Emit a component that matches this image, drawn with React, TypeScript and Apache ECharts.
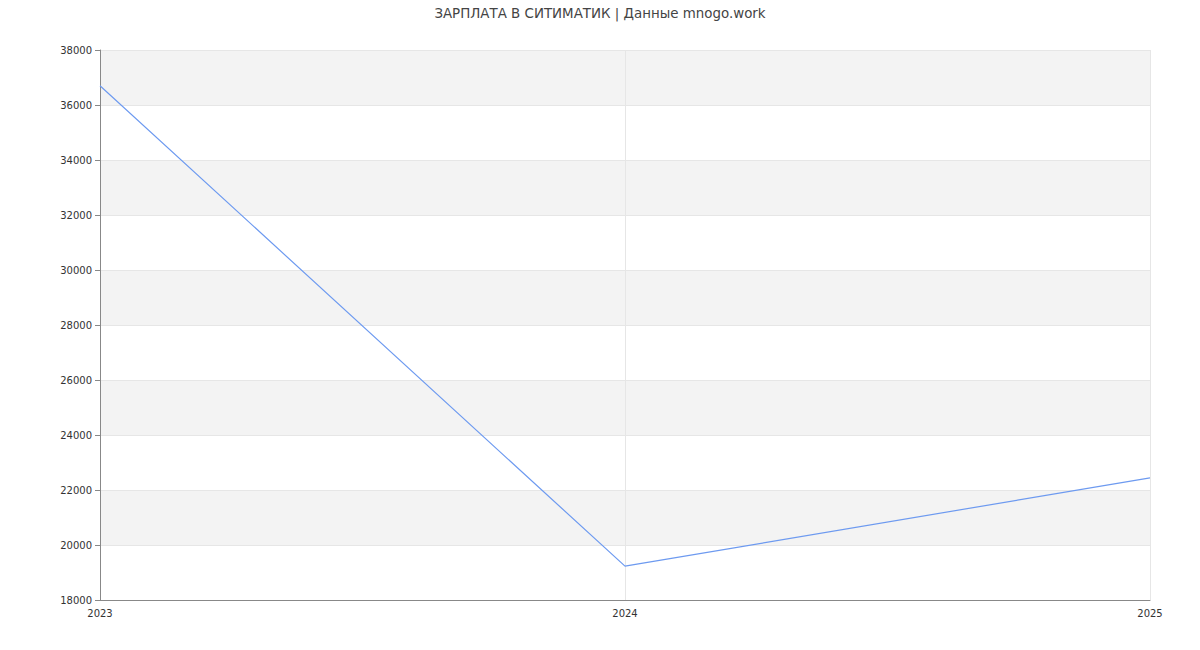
import React, { useEffect, useRef } from "react";
import * as echarts from "echarts";

const years = ["2023", "2024", "2025"];
const salary = [36700, 19230, 22440];
const titleText = "ЗАРПЛАТА В СИТИМАТИК | Данные mnogo.work";

export default function App() {
  const ref = useRef<HTMLDivElement>(null);
  useEffect(() => {
    if (!ref.current) return;
    const chart = echarts.init(ref.current, null, { renderer: "svg" });
    chart.setOption({
      animation: false,
      textStyle: { fontFamily: "DejaVu Sans" },
      title: {
        text: titleText,
        left: "center",
        top: 2,
        textStyle: { fontSize: 13.4, fontWeight: "normal", color: "#444", fontFamily: "DejaVu Sans" },
      },
      grid: { left: 100, right: 50, top: 50, bottom: 50, containLabel: false },
      xAxis: {
        type: "category",
        data: years,
        boundaryGap: false,
        axisLine: { lineStyle: { color: "#888" } },
        axisTick: { show: false },
        axisLabel: { color: "#333", fontSize: 10, margin: 8 },
        splitLine: { show: true, lineStyle: { color: "#e6e6e6" } },
      },
      yAxis: {
        type: "value",
        min: 18000,
        max: 38000,
        interval: 2000,
        axisLine: { show: true, lineStyle: { color: "#888" } },
        axisTick: { show: true, length: 5, lineStyle: { color: "#888" } },
        axisLabel: { color: "#333", fontSize: 10, margin: 8, formatter: (v: number) => String(v) },
        splitLine: { show: true, lineStyle: { color: "#e6e6e6" } },
        splitArea: { show: true, areaStyle: { color: ["#ffffff", "#f3f3f3"] } },
      },
      series: [
        {
          type: "line",
          data: salary,
          symbol: "none",
          lineStyle: { color: "#6d9af0", width: 1.2 },
          itemStyle: { color: "#6d9af0" },
        },
      ],
    });
    return () => chart.dispose();
  }, []);
  return <div ref={ref} style={{ width: 1200, height: 650, margin: -8 }} />;
}
